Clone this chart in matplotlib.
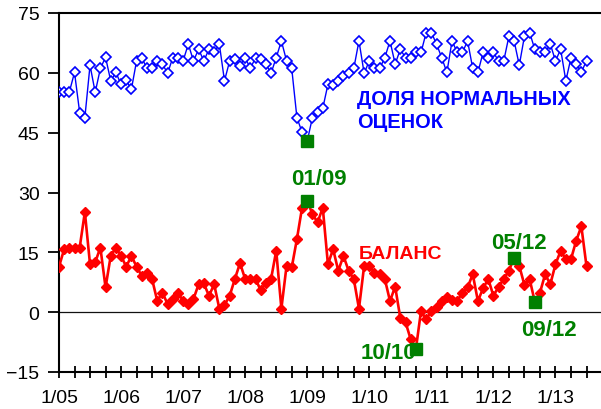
import matplotlib.pyplot as plt
import numpy as np

plt.rcParams['font.family'] = ['Liberation Sans', 'DejaVu Sans']

# monthly values, 1/05 .. 7/13
normal_share = [
    55.2, 55.2, 55.2, 60.1, 50.0, 48.8, 61.9, 55.1, 61.1, 63.9,
    58.0, 60.1, 57.1, 58.1, 55.9, 63.0, 63.8, 61.1, 61.1, 63.0,
    62.2, 59.9, 63.8, 63.8, 63.0, 67.2, 63.0, 65.9, 63.0, 65.9,
    65.1, 67.2, 58.0, 63.0, 63.4, 61.8, 63.8, 61.1, 63.8, 63.4,
    62.2, 59.9, 63.8, 68.0, 63.0, 61.1, 48.8, 45.1, 42.9, 48.8,
    50.1, 51.1, 57.1, 56.9, 58.0, 59.1, 59.9, 61.1, 68.0, 59.9,
    63.0, 61.1, 61.1, 63.8, 68.0, 62.2, 65.9, 63.8, 63.8, 65.1,
    65.1, 70.1, 70.1, 67.2, 63.8, 60.1, 68.0, 65.1, 65.1, 68.0,
    61.1, 60.1, 65.1, 63.8, 65.1, 63.0, 63.0, 69.2, 68.0, 61.9,
    69.2, 70.1, 65.9, 65.1, 65.1, 67.2, 63.0, 65.9, 58.0, 63.8,
    62.2, 60.2, 63.0,
]
balance = [
    11.4, 15.8, 16.2, 16.2, 16.2, 25.1, 12.0, 12.5, 16.2, 6.2,
    14.1, 16.2, 14.1, 11.4, 14.1, 11.4, 9.1, 9.9, 8.3, 2.8,
    4.9, 2.0, 3.3, 4.9, 2.8, 2.0, 3.3, 7.0, 7.2, 4.1,
    7.0, 0.9, 1.8, 4.1, 8.3, 12.3, 8.3, 8.3, 8.3, 5.5,
    7.4, 8.3, 15.4, 0.9, 11.6, 11.2, 18.3, 26.2, 27.9, 24.6,
    22.5, 26.2, 12.0, 15.8, 10.4, 14.1, 10.4, 8.3, 0.9, 11.6,
    11.6, 9.9, 9.5, 8.3, 2.8, 6.4, -1.5, -2.5, -6.8, -9.3,
    0.3, -1.8, 0.3, 1.2, 2.8, 3.7, 3.0, 2.8, 4.9, 6.2,
    9.5, 2.8, 6.0, 8.3, 4.1, 6.4, 8.3, 10.4, 13.7, 11.6,
    6.8, 8.3, 2.6, 4.9, 9.5, 7.0, 12.0, 15.4, 13.3, 13.3,
    17.9, 21.5, 11.5,
]
year_labels = ['1/05', '1/06', '1/07', '1/08', '1/09', '1/10', '1/11', '1/12', '1/13']

# highlighted months (index from 1/05)
blue_marks = [48]
red_marks = [48, 69, 88, 92]
mark_labels = ['01/09', '10/10', '05/12', '09/12']

months = np.arange(len(balance))
blue = '#0000FF'
red = '#FF0000'
green = '#008000'

fig = plt.figure(figsize=(6.01, 4.10), dpi=100)
ax = fig.add_axes([59 / 601, 37 / 410, 1 - 59 / 601, 359 / 410])

ax.axhline(0, color='#111111', lw=0.9, zorder=1)
ax.plot(months, normal_share, color=blue, lw=1.0, marker='D', ms=4.8,
        mfc='white', mec=blue, mew=1.2, zorder=3)
ax.plot(months, balance, color=red, lw=1.9, marker='D', ms=4.9,
        mfc=red, mec=red, zorder=3)

ax.plot(blue_marks, [normal_share[i] for i in blue_marks], 's', color=green, ms=8.5, zorder=5)
ax.plot(red_marks, [balance[i] for i in red_marks], 's', color=green, ms=8.5, zorder=5)

tfont = dict(fontsize=16, fontweight='bold', color=green, ha='center', va='center')
ax.text(50.3, 33.5, mark_labels[0], **tfont)
ax.text(63.7, -10.0, mark_labels[1], **tfont)
ax.text(88.9, 17.5, mark_labels[2], **tfont)
ax.text(94.7, -4.3, mark_labels[3], **tfont)

ax.text(57.7, 53.6, 'ДОЛЯ НОРМАЛЬНЫХ', fontsize=14.4, fontweight='bold', color=blue,
        ha='left', va='center')
ax.text(57.7, 47.9, 'ОЦЕНОК', fontsize=14.4, fontweight='bold', color=blue,
        ha='left', va='center')
ax.text(58.0, 14.8, 'БАЛАНС', fontsize=14, fontweight='bold', color=red,
        ha='left', va='center')

ax.set_xlim(0, 104.8)
ax.set_ylim(-15, 75)
ax.set_yticks([-15, 0, 15, 30, 45, 60, 75])
ticks = np.arange(0, 103, 3)
ax.set_xticks(ticks)
ax.set_xticklabels([year_labels[t // 12] if t % 12 == 0 else '' for t in ticks])

ax.tick_params(axis='x', direction='inout', length=9, width=1.3, pad=8, labelsize=14)
ax.tick_params(axis='y', direction='out', length=8, width=1.3, pad=6, labelsize=14)
for s in ['left', 'bottom', 'top']:
    ax.spines[s].set_linewidth(1.5)
ax.spines['right'].set_visible(False)

fig.savefig('out.png', dpi=100)
